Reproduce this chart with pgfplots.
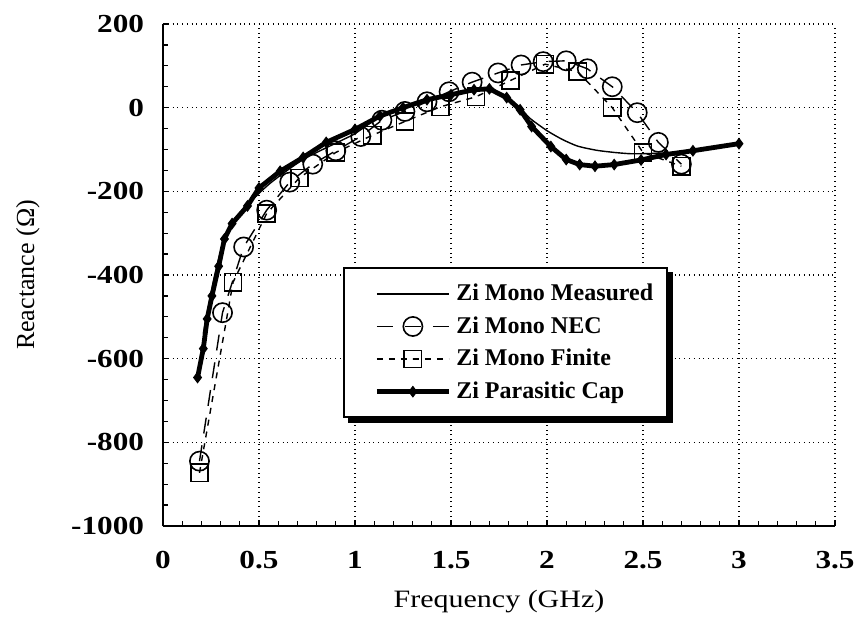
\documentclass[border=0pt]{standalone}
\usepackage{fontspec}
\setmainfont{Liberation Serif}
\newfontfamily\wide{Liberation Serif}[FakeStretch=1.2]
\usepackage{pgfplots}
\pgfplotsset{compat=1.18}
\begin{document}
\begin{tikzpicture}
\begin{axis}[
  name=ax,
  scale only axis, width=336bp, height=251bp,
  xmin=0, xmax=3.5, ymin=-1000, ymax=200,
  xtick={0,0.5,1,1.5,2,2.5,3,3.5}, ytick={-1000,-800,-600,-400,-200,0,200},
  minor x tick num=4, minor y tick num=3,
  axis x line*=bottom, axis y line*=left,
  axis line style={line width=0.9bp},
  tick align=inside, major tick length=3bp, minor tick length=2.5bp,
  tick style={line width=0.6bp, black},
  grid=major, major grid style={dotted, line width=0.8bp, black},
  /pgf/number format/assume math mode=true,
  /pgf/number format/1000 sep={},
  ticklabel style={font=\wide\bfseries\fontsize{13bp}{15bp}\selectfont},
  xticklabel style={yshift=-9bp},
  yticklabel style={xshift=-6bp},
  xlabel={Frequency (GHz)},
  ylabel={Reactance (Ω)},
  every axis x label/.style={at={(axis description cs:0.5,-0.163)}, anchor=base, font=\wide\fontsize{12.5bp}{14bp}\selectfont},
  every axis y label/.style={at={(axis description cs:-0.201,0.5)}, rotate=90, anchor=center, font=\fontsize{13bp}{15bp}\selectfont},
  legend cell align=left,
  legend style={name=leg, at={(axis cs:0.94,-381)}, anchor=north west, draw=black, line width=1bp, fill=white,
    font=\bfseries\fontsize{12bp}{14bp}\selectfont, inner xsep=5bp, inner ysep=6bp, row sep=2.5bp,
    /tikz/every odd column/.append style={column sep=0.5bp}},
  legend image code/.code={\path (0bp,0bp); \draw[mark repeat=2,mark phase=2,#1] plot coordinates {(10bp,0bp) (28bp,0bp) (46bp,0bp)};},
]
\addplot[black, line width=0.7bp, smooth, tension=0.4] coordinates {
(0.21,-540) (0.26,-420) (0.30,-345) (0.36,-275) (0.44,-232) (0.56,-180) (0.73,-124)
(0.94,-76) (1.0,-62) (1.13,-22) (1.25,-2) (1.375,17) (1.5,30) (1.62,40) (1.70,40)
(1.79,22) (1.86,0) (1.91,-25) (2.0,-55) (2.08,-76) (2.16,-92) (2.26,-102) (2.35,-107)
(2.43,-110) (2.5,-110) (2.62,-108) (2.76,-102) (3.0,-86)};
\addlegendentry{Zi Mono Measured}
\addplot[black, line width=0.7bp, dash pattern=on 8bp off 6bp, mark=o, mark size=4.8bp,
  mark options={solid, line width=0.8bp}] coordinates {
(0.19,-845) (0.31,-490) (0.42,-333) (0.54,-245) (0.66,-178) (0.78,-135) (0.90,-103)
(1.03,-69) (1.14,-30) (1.26,-9) (1.375,14) (1.49,38) (1.61,61) (1.745,83) (1.865,102)
(1.98,110) (2.10,112) (2.21,93) (2.34,50) (2.47,-12) (2.58,-83) (2.70,-135)};
\addlegendentry{Zi Mono NEC}
\addplot[black, line width=0.7bp, dash pattern=on 3bp off 3bp, mark=square, mark size=4.3bp,
  mark options={solid, line width=0.8bp}] coordinates {
(0.19,-873) (0.365,-417) (0.54,-253) (0.71,-168) (0.90,-107) (1.09,-66) (1.26,-33)
(1.445,2) (1.63,26) (1.81,65) (1.99,104) (2.16,86) (2.34,0) (2.50,-107) (2.70,-140)};
\addlegendentry{Zi Mono Finite}
\addplot[black, line width=2.4bp, mark=diamond*, mark size=2.6bp, mark options={solid, line width=0.5bp}] coordinates {
(0.18,-645) (0.21,-576) (0.23,-505) (0.255,-450) (0.29,-379) (0.32,-314) (0.36,-277)
(0.44,-235) (0.50,-192) (0.61,-152) (0.73,-119) (0.85,-83) (1.0,-52) (1.13,-20)
(1.25,0) (1.375,19) (1.5,31) (1.62,43) (1.70,45) (1.79,24) (1.86,-5) (1.92,-45)
(2.02,-93) (2.10,-124) (2.17,-136) (2.25,-140) (2.35,-136) (2.49,-125) (2.62,-112)
(2.76,-103) (3.0,-86)};
\addlegendentry{Zi Parasitic Cap}
\end{axis}
\fill[black] ([yshift=-2.5bp]leg.north east) rectangle ([xshift=2.5bp,yshift=-2.5bp]leg.south east);
\fill[black] ([xshift=2.5bp]leg.south west) rectangle ([xshift=2.5bp,yshift=-2.5bp]leg.south east);
\path ([xshift=-81.5bp,yshift=-49bp]ax.south west) rectangle ([xshift=13.5bp,yshift=12bp]ax.north east);
\end{tikzpicture}
\end{document}
